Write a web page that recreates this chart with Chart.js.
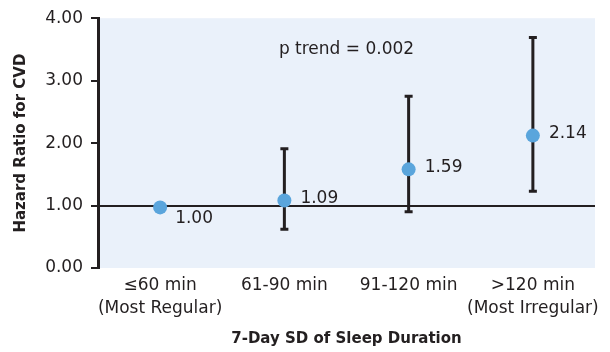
<!DOCTYPE html>
<html>
<head>
<meta charset="utf-8">
<script src="https://cdn.jsdelivr.net/npm/chart.js@4.4.0/dist/chart.umd.min.js"></script>
<style>
  html, body { margin: 0; padding: 0; background: #fff; }
  #wrap { width: 610px; height: 352px; }
</style>
</head>
<body>
<div id="wrap"><canvas id="grafico" width="610" height="352"></canvas></div>
<script>
// datos
const categorias = [["≤60 min", "(Most Regular)"], "61-90 min", "91-120 min", [">120 min", "(Most Irregular)"]];
const hazardRatio = [0.97, 1.08, 1.58, 2.12];
const limiteInferior = [null, 0.62, 0.90, 1.23];
const limiteSuperior = [null, 1.91, 2.75, 3.69];
const etiquetasValor = ["1.00", "1.09", "1.59", "2.14"];
const ticksY = [0, 1, 2, 3, 4];
const textoTendencia = "p trend = 0.002";

const oscuro = "#231F20";
const fuente = "DejaVu Sans";

// fondo celeste del area de la grafica
const fondoPlugin = {
    id: "fondo",
    beforeDraw(chart) {
        const { ctx, chartArea: a } = chart;
        ctx.save();
        ctx.fillStyle = "#EAF1FA";
        ctx.fillRect(a.left, a.top, a.right - a.left, a.bottom - a.top);
        ctx.restore();
    }
};

// barras de error, etiquetas de valor y texto de tendencia
const extrasPlugin = {
    id: "extras",
    beforeDatasetsDraw(chart) {
        const { ctx, scales: { x, y } } = chart;
        ctx.save();
        ctx.strokeStyle = oscuro;
        ctx.lineWidth = 3;
        hazardRatio.forEach((v, i) => {
            if (limiteInferior[i] == null) return;
            const px = x.getPixelForValue(i);
            const y1 = y.getPixelForValue(limiteInferior[i]);
            const y2 = y.getPixelForValue(limiteSuperior[i]);
            ctx.beginPath();
            ctx.moveTo(px, y1); ctx.lineTo(px, y2);
            ctx.moveTo(px - 4, y1); ctx.lineTo(px + 4, y1);
            ctx.moveTo(px - 4, y2); ctx.lineTo(px + 4, y2);
            ctx.stroke();
        });
        ctx.restore();
    },
    afterDatasetsDraw(chart) {
        const { ctx, scales: { x, y } } = chart;
        ctx.save();
        ctx.fillStyle = oscuro;
        ctx.font = "17px '" + fuente + "'";
        ctx.textBaseline = "middle";
        ctx.textAlign = "left";
        etiquetasValor.forEach((t, i) => {
            const px = x.getPixelForValue(i);
            const py = y.getPixelForValue(hazardRatio[i]);
            if (i === 0) ctx.fillText(t, px + 15, py + 11);
            else ctx.fillText(t, px + 16, py - 2);
        });
        ctx.textAlign = "center";
        ctx.fillText(textoTendencia, x.getPixelForValue(1.5), y.getPixelForValue(3.5));
        ctx.restore();
    }
};

new Chart(document.getElementById("grafico"), {
    type: "line",
    data: {
        labels: categorias,
        datasets: [{
            label: "Hazard Ratio",
            data: hazardRatio,
            showLine: false,
            pointRadius: 7,
            pointHoverRadius: 7,
            pointBackgroundColor: "#5AA5DC",
            pointBorderWidth: 0
        }]
    },
    options: {
        responsive: false,
        animation: false,
        layout: { padding: { top: 17, right: 15, left: 0, bottom: 0 } },
        plugins: { legend: { display: false }, tooltip: { enabled: false } },
        scales: {
            x: {
                offset: true,
                afterFit: s => { s.height = 84; },
                grid: { display: false, drawTicks: false },
                border: { display: false },
                ticks: {
                    color: oscuro, padding: 7, maxRotation: 0, autoSkip: false,
                    font: { family: fuente, size: 17, lineHeight: 1.3 }
                },
                title: {
                    display: true, text: "7-Day SD of Sleep Duration", color: oscuro,
                    font: { family: fuente, size: 15, weight: "bold" },
                    padding: { top: 0, bottom: 4 }
                }
            },
            y: {
                min: 0, max: 4,
                afterFit: s => { s.width = 98; },
                afterBuildTicks: s => { s.ticks = ticksY.map(v => ({ value: v })); },
                grid: {
                    color: c => (c.tick && c.tick.value === 1 ? oscuro : "transparent"),
                    tickColor: oscuro, tickLength: 7, lineWidth: 2
                },
                border: { display: true, color: oscuro, width: 3 },
                ticks: {
                    color: oscuro, padding: 8,
                    font: { family: fuente, size: 17 },
                    callback: v => v.toFixed(2)
                },
                title: {
                    display: true, text: "Hazard Ratio for CVD", color: oscuro,
                    font: { family: fuente, size: 15, weight: "bold" },
                    padding: { top: 12, bottom: 0 }
                }
            }
        }
    },
    plugins: [fondoPlugin, extrasPlugin]
});
</script>
</body>
</html>
